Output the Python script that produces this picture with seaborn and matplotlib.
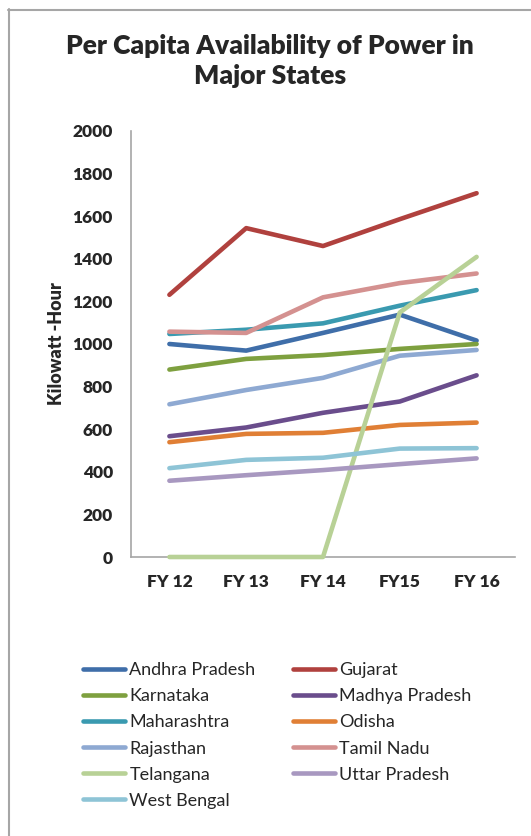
import matplotlib
matplotlib.use("Agg")
import matplotlib.pyplot as plt
from matplotlib.lines import Line2D
import seaborn as sns
import pandas as pd

years = ["FY 12", "FY 13", "FY 14", "FY15", "FY 16"]

andhra_pradesh = [1000, 969, 1052, 1138, 1016]
gujarat = [1231, 1544, 1460, 1586, 1708]
karnataka = [880, 930, 948, 977, 1000]
madhya_pradesh = [567, 608, 677, 730, 853]
maharashtra = [1047, 1067, 1097, 1180, 1253]
odisha = [539, 578, 583, 620, 631]
rajasthan = [717, 784, 841, 945, 972]
tamil_nadu = [1058, 1052, 1219, 1286, 1331]
telangana = [0, 0, 0, 1148, 1409]
uttar_pradesh = [358, 384, 408, 436, 463]
west_bengal = [417, 456, 466, 509, 511]

states = {
    "Andhra Pradesh": andhra_pradesh,
    "Gujarat": gujarat,
    "Karnataka": karnataka,
    "Madhya Pradesh": madhya_pradesh,
    "Maharashtra": maharashtra,
    "Odisha": odisha,
    "Rajasthan": rajasthan,
    "Tamil Nadu": tamil_nadu,
    "Telangana": telangana,
    "Uttar Pradesh": uttar_pradesh,
    "West Bengal": west_bengal,
}

colors = {
    "Andhra Pradesh": "#3F6EA9",
    "Gujarat": "#B0413E",
    "Karnataka": "#7EA03F",
    "Madhya Pradesh": "#6A4D8C",
    "Maharashtra": "#3A9AB0",
    "Odisha": "#E07F35",
    "Rajasthan": "#8EA9D2",
    "Tamil Nadu": "#D49190",
    "Telangana": "#B8D196",
    "Uttar Pradesh": "#A898C0",
    "West Bengal": "#8EC4D6",
}

rows = []
for name, vals in states.items():
    for yr, v in zip(years, vals):
        rows.append({"Year": yr, "State": name, "kWh": v})
df = pd.DataFrame(rows)

sns.set_style("white")
plt.rcParams["font.family"] = ["Lato", "DejaVu Sans"]

fig = plt.figure(figsize=(5.31, 8.36), dpi=100)
ax = fig.add_axes([131 / 531, 1 - 557 / 836, 384 / 531, 426 / 836])

sns.lineplot(data=df, x="Year", y="kWh", hue="State", palette=colors,
             hue_order=list(states.keys()), linewidth=3.3, ax=ax,
             legend=False, sort=False)
for ln in ax.lines:
    ln.set_solid_capstyle("round")
    ln.set_solid_joinstyle("round")
    ln.set_clip_on(False)

ax.set_xlim(-0.5, 4.5)
ax.set_ylim(0, 2000)
ax.set_yticks(range(0, 2001, 200))
ax.set_xlabel("")
ax.set_ylabel("Kilowatt -Hour", fontsize=13, fontweight="heavy", labelpad=5)
ax.tick_params(axis="both", length=0, labelsize=12.5)
ax.tick_params(axis="y", pad=13)
ax.tick_params(axis="x", pad=12)
for lab in ax.get_xticklabels() + ax.get_yticklabels():
    lab.set_fontweight("heavy")
for side in ["top", "right"]:
    ax.spines[side].set_visible(False)
for side in ["left", "bottom"]:
    ax.spines[side].set_color("#A6A6A6")
    ax.spines[side].set_linewidth(1.2)
    ax.spines[side].set_zorder(0.5)

fig.text(270 / 531, 1 - 61 / 836, "Per Capita Availability of Power in\nMajor States",
         ha="center", va="center", fontsize=19, fontweight="heavy",
         linespacing=1.3)

# legend: row-wise order laid out as two columns
col1 = ["Andhra Pradesh", "Karnataka", "Maharashtra", "Rajasthan", "Telangana", "West Bengal"]
col2 = ["Gujarat", "Madhya Pradesh", "Odisha", "Tamil Nadu", "Uttar Pradesh"]
order = col1 + col2
handles = [Line2D([], [], color=colors[n], lw=3.3, solid_capstyle="round") for n in order]
fig.legend(handles, order, ncol=2, loc="upper left",
           bbox_to_anchor=(76 / 531, 1 - 655 / 836), frameon=False,
           fontsize=13, handlelength=2.3, handletextpad=0.25,
           labelspacing=0.56, columnspacing=2.1, borderaxespad=0)

# outer chart frame
fig.add_artist(Line2D([8.5 / 531, 8.5 / 531], [1 - 9 / 836, 0], color="#A6A6A6", lw=1.5,
                      transform=fig.transFigure))
fig.add_artist(Line2D([8 / 531, 1], [1 - 9.5 / 836, 1 - 9.5 / 836], color="#A6A6A6", lw=1.5,
                      transform=fig.transFigure))

fig.savefig("out.png", dpi=100)
